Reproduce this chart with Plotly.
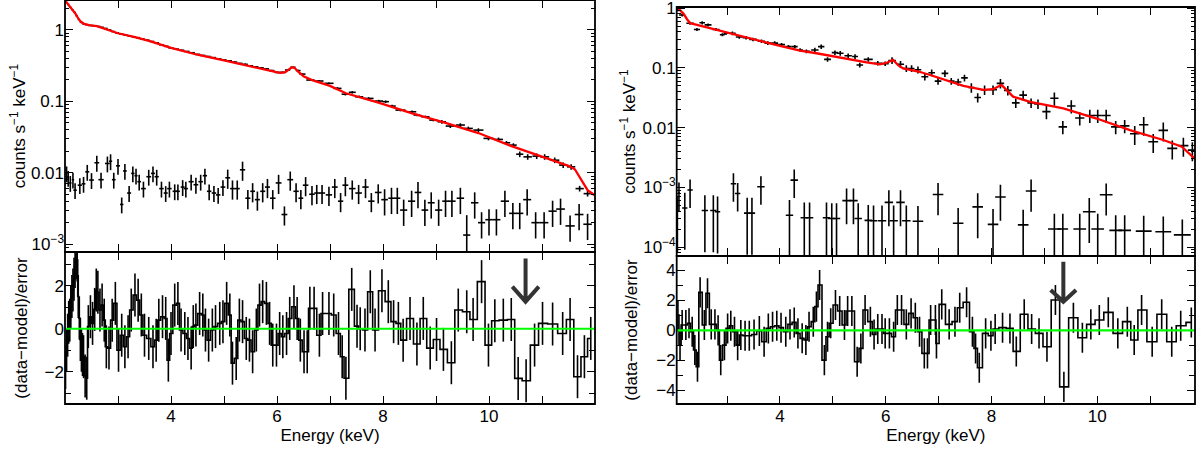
import numpy as np
import plotly.graph_objects as go

# ---------------- LEFT SPECTRUM ----------------
left_model_E = [2.00, 2.05, 2.10, 2.15, 2.20, 2.25, 2.30, 2.36, 2.45, 2.60, 2.80, 3.00, 3.30, 3.60, 4.00,
                4.50, 5.00, 5.50, 5.90, 6.05, 6.15, 6.22, 6.28, 6.33, 6.40, 6.50, 6.65, 7.00, 7.30, 7.93,
                8.55, 9.18, 9.80, 10.40, 11.05, 11.50, 11.62, 11.72, 11.86, 12.00]
left_model_y = [2.60, 2.35, 2.10, 1.90, 1.68, 1.45, 1.30, 1.22, 1.17, 1.13, 1.02, 0.90, 0.80, 0.70, 0.56,
                0.45, 0.375, 0.31, 0.265, 0.25, 0.255, 0.28, 0.30, 0.295, 0.26, 0.225, 0.20, 0.165, 0.13, 0.095,
                0.068, 0.05, 0.036, 0.024, 0.0165, 0.0125, 0.0112, 0.0085, 0.0057, 0.0048]

left_src_E = [2.02, 2.06, 2.10, 2.14, 2.18, 2.22, 2.26, 2.30, 2.35, 2.40, 2.46, 2.52, 2.58, 2.64, 2.70,
              2.77, 2.84, 2.91, 2.98, 3.06, 3.14, 3.22, 3.30, 3.38, 3.46, 3.55, 3.64, 3.73, 3.82, 3.91,
              4.00, 4.10, 4.20, 4.30, 4.40, 4.50, 4.60, 4.70, 4.80, 4.90, 5.00, 5.10, 5.20, 5.30, 5.40,
              5.50, 5.60, 5.70, 5.80, 5.90, 6.00, 6.10, 6.20, 6.30, 6.40, 6.48, 6.63, 6.79, 6.98, 7.14,
              7.29, 7.42, 7.55, 7.73, 7.92, 8.05, 8.17, 8.33, 8.55, 8.64, 8.80, 8.95, 9.11, 9.27, 9.46,
              9.61, 9.80, 9.99, 10.18, 10.33, 10.46, 10.58, 10.73, 10.90, 11.05, 11.24, 11.40, 11.55, 11.71, 11.86]
left_src_y = [2.48, 2.28, 2.08, 1.92, 1.77, 1.58, 1.40, 1.28, 1.22, 1.19, 1.16, 1.15, 1.13, 1.12, 1.09,
              1.05, 1.00, 0.95, 0.91, 0.88, 0.85, 0.82, 0.80, 0.78, 0.75, 0.72, 0.69, 0.66, 0.62, 0.59,
              0.56, 0.54, 0.52, 0.50, 0.48, 0.455, 0.44, 0.425, 0.41, 0.395, 0.38, 0.37, 0.355, 0.34, 0.33,
              0.315, 0.305, 0.295, 0.285, 0.27, 0.255, 0.255, 0.275, 0.30, 0.27, 0.241, 0.199, 0.193, 0.179, 0.152,
              0.126, 0.134, 0.116, 0.110, 0.101, 0.099, 0.086, 0.0755, 0.0715, 0.0643, 0.0608, 0.0547, 0.0518, 0.0451, 0.0466,
              0.0418, 0.0396, 0.0303, 0.0293, 0.0263, 0.0244, 0.0182, 0.0167, 0.0171, 0.0167, 0.0150, 0.0128, 0.0121, 0.0060, 0.0051]
left_src_relerr = [0.01] * 19 + [0.015] * 21 + [0.025] * 19 + [0.04] * 13 + [0.06] * 9 + [0.09] * 9

left_bkg_E = [2.03, 2.06, 2.10, 2.15, 2.19, 2.28, 2.35, 2.42, 2.50, 2.60, 2.68, 2.80, 2.86, 2.92, 3.00,
              3.07, 3.13, 3.21, 3.28, 3.34, 3.40, 3.48, 3.58, 3.66, 3.73, 3.82, 3.90, 3.97, 4.07, 4.13,
              4.22, 4.28, 4.38, 4.47, 4.56, 4.64, 4.72, 4.81, 4.89, 4.98, 5.07, 5.16, 5.25, 5.35, 5.45,
              5.54, 5.63, 5.73, 5.82, 5.92, 6.03, 6.14, 6.25, 6.36, 6.45, 6.54, 6.66, 6.75, 6.85, 6.98,
              7.09, 7.20, 7.29, 7.42, 7.54, 7.67, 7.78, 7.91, 8.03, 8.16, 8.27, 8.39, 8.54, 8.66, 8.79,
              8.91, 9.05, 9.18, 9.30, 9.46, 9.58, 9.73, 9.86, 10.00, 10.14, 10.30, 10.45, 10.58, 10.72, 10.88,
              11.04, 11.20, 11.35, 11.53, 11.70, 11.86]
left_bkg_y = [0.0098, 0.0085, 0.0072, 0.0080, 0.0057, 0.0067, 0.0070, 0.0103, 0.0079, 0.0138, 0.0080, 0.0135, 0.0145, 0.0080, 0.0125,
              0.0036, 0.0106, 0.0052, 0.0098, 0.0091, 0.0075, 0.0060, 0.0088, 0.0098, 0.0088, 0.0060, 0.0052, 0.0060, 0.0055, 0.0055,
              0.0063, 0.0060, 0.0075, 0.0068, 0.0075, 0.0091, 0.0055, 0.0052, 0.0049, 0.0063, 0.0085, 0.0060, 0.0060, 0.0110, 0.0044,
              0.0055, 0.0042, 0.0055, 0.0063, 0.0044, 0.0072, 0.0026, 0.0080, 0.0055, 0.0044, 0.0067, 0.0050, 0.0052, 0.0052, 0.0049,
              0.0063, 0.0040, 0.0067, 0.0060, 0.0052, 0.0063, 0.0040, 0.0053, 0.0042, 0.0044, 0.0044, 0.0030, 0.0040, 0.0053, 0.0030,
              0.0038, 0.0030, 0.0040, 0.0040, 0.0044, 0.00134, 0.0038, 0.0020, 0.0022, 0.0022, 0.0040, 0.0027, 0.0027, 0.0042, 0.0020,
              0.0020, 0.0029, 0.0031, 0.0018, 0.0026, 0.0019]
left_bkg_relerr = [0.25] * 40 + [0.3] * 28 + [0.4] * 12 + [0.9] + [0.4] * 15

left_res_E = [2.01, 2.03, 2.05, 2.07, 2.09, 2.11, 2.13, 2.15, 2.17, 2.19, 2.21, 2.23, 2.25, 2.27, 2.29, 2.31, 2.33, 2.35,
              2.38, 2.41, 2.44, 2.48, 2.52, 2.56, 2.59, 2.62, 2.66, 2.70, 2.74, 2.78, 2.83, 2.89, 2.95,
              3.01, 3.07, 3.13, 3.19, 3.25, 3.32, 3.38, 3.44, 3.50, 3.58, 3.66, 3.72, 3.77, 3.84, 3.90, 3.95,
              4.00, 4.07, 4.13, 4.19, 4.26, 4.32, 4.38, 4.42, 4.47, 4.54, 4.60, 4.65, 4.71, 4.78, 4.84, 4.92, 4.98,
              5.05, 5.11, 5.16, 5.23, 5.29, 5.35, 5.42, 5.48, 5.54, 5.61, 5.67, 5.73, 5.80, 5.86, 5.92, 5.99,
              6.05, 6.11, 6.18, 6.24, 6.32, 6.38, 6.44, 6.51, 6.57, 6.62, 6.70, 6.80, 6.86,
              6.98, 7.07, 7.16, 7.23, 7.30, 7.41, 7.51, 7.57, 7.66, 7.76, 7.85, 7.98,
              8.10, 8.20, 8.29, 8.38, 8.51, 8.64, 8.76, 8.89,
              9.01, 9.14, 9.29, 9.42, 9.58, 9.70, 9.86, 9.99,
              10.11, 10.27, 10.42, 10.55, 10.70, 10.86,
              11.01, 11.20, 11.39, 11.53, 11.67, 11.80, 11.92]
left_res = [-1.8, -1.0, -0.3, 0.3, 0.4, 1.0, 1.5, 1.8, 2.3, 2.9, 3.3, 3.2, 1.5, 0.5, -0.5, -1.0, -1.2, -1.3,
            -2.2, -2.3, 0.1, 0.56, 0.25, 0.9, 1.8, 1.7, 0.87, 1.1, 0.4, -0.84, -0.9, 0.4, 1.18,
            -1.0, -0.3, -0.84, -0.37, 0.87, 1.57, 1.33, 0.64, -0.3, -0.45, -0.84, -0.53, 0.4, 0.56, 0.48, -1.46,
            -0.22, 1.1, 1.18, -0.06, -0.22, -0.45, -0.9, 0.1, 0.17, 0.71, 0.64, -0.06, -0.53, -0.06, 0.1, 0.25, 0.33,
            1.18, 0.64, -1.6, -1.38, 0.4, 0.33, -0.45, -0.53, -1.07, -0.06, 1.1, 1.26, 1.18, 0.25, -0.76, -0.76,
            -0.22, -0.37, -0.22, 0.48, 1.02, 0.48, -0.53, -1.07, -1.07, 0.95, 0.95, -0.3, 0.71,
            0.71, 0.64, -0.22, -1.3, -2.3, 1.83, 0.12, 0.0, -0.06, 1.72, -0.06, 1.77,
            1.26, 0.33, 0.25, -0.53, 0.48, -0.71, 0.48, -0.9,
            -0.5, -0.96, -1.58, 0.87, 0.79, 0.43, 2.19, -0.76,
            0.37, 0.4, 0.43, -2.31, -2.42, -0.76,
            0.25, 0.22, -0.22, 0.43, -2.23, -1.3, -0.45]

# ---------------- RIGHT SPECTRUM ----------------
right_model_E = [2.05, 2.10, 2.17, 2.24, 2.30, 2.43, 2.68, 2.93, 3.12, 3.43, 3.75, 4.06, 4.38, 4.69, 5.01,
                 5.32, 5.64, 5.89, 6.02, 6.14, 6.24, 6.33, 6.62, 6.84, 7.47, 7.85, 8.03, 8.19, 8.30, 8.41,
                 8.73, 9.36, 9.99, 10.62, 11.25, 11.60, 11.85]
right_model_y = [1.04, 0.95, 0.82, 0.66, 0.56, 0.525, 0.46, 0.40, 0.36, 0.31, 0.265, 0.227, 0.195, 0.176, 0.155,
                 0.139, 0.124, 0.115, 0.122, 0.136, 0.11, 0.098, 0.087, 0.076, 0.05, 0.043, 0.044, 0.052, 0.042, 0.033,
                 0.027, 0.021, 0.0142, 0.0091, 0.0062, 0.0048, 0.003]

right_src_E = [2.07, 2.15, 2.30, 2.43, 2.53, 2.64, 2.79, 2.91, 2.98, 3.10, 3.23, 3.36, 3.49, 3.65, 3.77,
               3.90, 4.03, 4.16, 4.28, 4.38, 4.50, 4.66, 4.78, 4.90, 5.04, 5.14, 5.29, 5.42, 5.51, 5.67,
               5.85, 5.99, 6.12, 6.28, 6.39, 6.49, 6.61, 6.74, 6.87, 6.99, 7.12, 7.24, 7.37, 7.49, 7.62,
               7.74, 7.87, 8.03, 8.17, 8.31, 8.46, 8.60, 8.75, 8.88, 9.04, 9.19, 9.35, 9.51, 9.67, 9.86,
               10.01, 10.17, 10.35, 10.52, 10.71, 10.88, 11.06, 11.25, 11.42, 11.63, 11.80]
right_src_y = [0.95, 0.77, 0.56, 0.44, 0.57, 0.525, 0.44, 0.36, 0.38, 0.38, 0.33, 0.32, 0.30, 0.28, 0.26,
               0.26, 0.245, 0.227, 0.227, 0.20, 0.19, 0.20, 0.227, 0.139, 0.18, 0.176, 0.16, 0.155, 0.112, 0.139,
               0.12, 0.118, 0.133, 0.115, 0.098, 0.098, 0.093, 0.071, 0.083, 0.060, 0.081, 0.060, 0.058, 0.068, 0.047,
               0.032, 0.043, 0.043, 0.055, 0.042, 0.026, 0.035, 0.026, 0.025, 0.0185, 0.031, 0.0103, 0.023, 0.0145, 0.016,
               0.016, 0.016, 0.0103, 0.0107, 0.0079, 0.0112, 0.0058, 0.009, 0.0045, 0.005, 0.0042]
right_src_relerr = [0.06] * 9 + [0.07] * 12 + [0.09] * 11 + [0.13] * 12 + [0.18] * 10 + [0.25] * 10 + [0.35] * 7

right_bkg_E = [2.06, 2.09, 2.20, 2.30, 2.58, 2.74, 2.82, 3.12, 3.20, 3.38, 3.47, 3.64, 4.18, 4.27, 4.46, 4.56,
               4.88, 4.98, 5.07, 5.26, 5.39, 5.48, 5.67, 5.77, 5.93, 6.06, 6.15, 6.28, 6.39, 6.61, 6.99, 7.37,
               7.74, 8.03, 8.17, 8.60, 8.75, 9.19, 9.35, 9.67, 9.85, 10.01, 10.17, 10.35, 10.52, 10.88, 11.25, 11.61]
right_bkg_y = [4.0e-4, 8.0e-4, 4.5e-4, 9.0e-4, 4.1e-4, 4.1e-4, 3.9e-4, 1.15e-3, 7.9e-4, 3.7e-4, 3.7e-4, 1.02e-3,
               3.4e-4, 1.32e-3, 3.1e-4, 3.1e-4, 3.1e-4, 3.0e-4, 3.0e-4, 6.0e-4, 6.0e-4, 3.0e-4, 2.8e-4, 2.75e-4,
               2.75e-4, 5.6e-4, 2.75e-4, 5.6e-4, 2.75e-4, 2.7e-4, 7.6e-4, 2.5e-4, 4.7e-4, 2.4e-4, 6.9e-4, 2.35e-4,
               8.7e-4, 2.0e-4, 2.0e-4, 2.0e-4, 3.9e-4, 2.0e-4, 7.5e-4, 1.9e-4, 1.9e-4, 1.85e-4, 1.8e-4, 1.6e-4]
right_bkg_relerr = [0.8, 0.5, 0.8, 0.5, 0.8, 0.8, 0.8, 0.5, 0.5, 0.8, 0.8, 0.5, 0.8, 0.5, 0.8, 0.8,
                    0.8, 0.8, 0.8, 0.6, 0.6, 0.8, 0.8, 0.8, 0.8, 0.6, 0.8, 0.6, 0.8, 0.8, 0.55, 0.8,
                    0.7, 0.8, 0.6, 0.8, 0.55, 0.8, 0.8, 0.8, 0.7, 0.8, 0.55, 0.8, 0.8, 0.8, 0.8, 0.8]
right_bkg_halfwidth = [0.02, 0.02, 0.05, 0.05, 0.06, 0.06, 0.05, 0.05, 0.05, 0.06, 0.06, 0.07, 0.07, 0.07, 0.07, 0.07,
                       0.07, 0.07, 0.07, 0.08, 0.08, 0.07, 0.07, 0.07, 0.08, 0.08, 0.08, 0.08, 0.08, 0.1, 0.1, 0.1,
                       0.1, 0.1, 0.1, 0.1, 0.1, 0.12, 0.1, 0.12, 0.12, 0.12, 0.12, 0.12, 0.12, 0.15, 0.15, 0.16]

right_res_E = [2.07, 2.11, 2.15, 2.22, 2.28, 2.34, 2.39, 2.44, 2.49, 2.57, 2.63, 2.70, 2.77, 2.83, 2.88, 2.95,
               3.01, 3.07, 3.14, 3.20, 3.26, 3.34, 3.42, 3.51, 3.61, 3.70, 3.78, 3.86, 3.94, 4.02, 4.11, 4.19,
               4.27, 4.34, 4.42, 4.49, 4.55, 4.63, 4.69, 4.75, 4.84, 4.90, 4.96, 5.05, 5.13, 5.22, 5.28, 5.36,
               5.46, 5.53, 5.61, 5.71, 5.78, 5.85, 5.93, 5.99, 6.07, 6.15, 6.22, 6.30, 6.39, 6.48, 6.56, 6.64,
               6.73, 6.79, 6.85, 6.94, 6.96, 7.06, 7.20, 7.31, 7.40, 7.53, 7.64, 7.70, 7.77, 7.89, 7.99, 8.07,
               8.21, 8.35, 8.47, 8.62, 8.76, 8.90, 9.05, 9.21, 9.37, 9.55, 9.72, 9.88, 10.04, 10.21, 10.39, 10.57,
               10.70, 10.84, 11.04, 11.22, 11.41, 11.58, 11.78]
right_res = [1.02, -0.98, 0.36, 0.36, 0.47, -0.09, -1.31, -2.42, 2.53, 0.36, 2.47, 0.4, 0.4, 0.0, -1.98, -0.98,
             0.13, 0.31, -0.09, -0.98, -0.31, -0.36, -0.36, -0.27, -0.04, -0.76, 0.13, 0.24, 0.31, 0.18, -0.09, 0.4,
             0.53, -0.2, -0.53, -0.64, 0.24, 0.58, 1.58, 3.02, -1.98, -0.42, 0.47, 1.69, 1.29, 0.36, 1.29, 1.29,
             -2.09, -1.2, 1.36, 0.58, -0.27, 0.09, 0.09, -0.2, -0.2, -0.42, 1.36, 1.36, 0.4, 1.13, 0.84, -0.09,
             -1.53, -1.53, 0.69, 0.69, -0.87, 1.73, 0.4, 0.58, 1.51, 1.87, -0.09, -1.2, -2.49, -0.2, -0.36, 0.09,
             0.18, 0.13, -1.4, 1.07, 0.09, -0.2, -1.09, 2.02, -3.76, 0.84, -0.49, 0.4, 0.69, 1.2, -0.2, 0.58,
             -0.64, 1.36, -0.76, 1.07, -0.76, 0.31, 0.53]

# arrows marking the absorption features (energy, shaft top, tip) in residual units
arrow_E = [10.69, 9.36]
arrow_top = [3.27, 4.57]
arrow_tip = [1.26, 1.91]

# ---------------- helpers ----------------
FONT = "Liberation Sans, Arial, Helvetica, sans-serif"


def halfwidths(e):
    e = np.asarray(e, float)
    d = np.diff(e)
    left = np.concatenate([[d[0]], d])
    right = np.concatenate([d, [d[-1]]])
    return 0.25 * (left + right)


def cross_trace(E, y, rel, hw, xa, ya, thick=1.6):
    y = np.asarray(y, float)
    return go.Scatter(
        x=E, y=y, xaxis=xa, yaxis=ya, mode="markers",
        marker=dict(size=1, color="black"),
        error_x=dict(type="data", array=np.asarray(hw, float), color="black", thickness=thick, width=0),
        error_y=dict(type="data", array=y * np.asarray(rel, float), color="black", thickness=thick, width=0),
        showlegend=False, hoverinfo="skip")


def model_trace(E, y, xa, ya):
    return go.Scatter(x=E, y=y, xaxis=xa, yaxis=ya, mode="lines",
                      line=dict(color="#ff0000", width=2.3), showlegend=False, hoverinfo="skip")


def resid_traces(E, r, xa, ya):
    step = go.Scatter(x=E, y=r, xaxis=xa, yaxis=ya, mode="lines",
                      line=dict(color="black", width=1.6, shape="hvh"), showlegend=False, hoverinfo="skip")
    bars = go.Scatter(x=E, y=r, xaxis=xa, yaxis=ya, mode="markers", marker=dict(size=1, color="black"),
                      error_y=dict(type="constant", value=1, color="black", thickness=1.6, width=0),
                      showlegend=False, hoverinfo="skip")
    return [step, bars]


fig = go.Figure()
# left panel
fig.add_trace(cross_trace(left_bkg_E, left_bkg_y, left_bkg_relerr, halfwidths(left_bkg_E), "x", "y"))
fig.add_trace(cross_trace(left_src_E, left_src_y, left_src_relerr, halfwidths(left_src_E), "x", "y"))
fig.add_trace(model_trace(left_model_E, left_model_y, "x", "y"))
for t in resid_traces(left_res_E, left_res, "x3", "y3"):
    fig.add_trace(t)
# right panel
fig.add_trace(cross_trace(right_bkg_E, right_bkg_y, right_bkg_relerr, right_bkg_halfwidth, "x2", "y2"))
fig.add_trace(cross_trace(right_src_E, right_src_y, right_src_relerr, halfwidths(right_src_E), "x2", "y2"))
fig.add_trace(model_trace(right_model_E, right_model_y, "x2", "y2"))
for t in resid_traces(right_res_E, right_res, "x4", "y4"):
    fig.add_trace(t)

tickfont = dict(size=17, family=FONT, color="black")
titlefont = dict(size=17, family=FONT, color="black")


def base_axis(**kw):
    d = dict(showline=False, mirror="allticks",
             ticks="inside", tickcolor="black", tickwidth=1.4, ticklen=8, automargin=False,
             showgrid=False, zeroline=False, tickfont=tickfont, ticklabeloverflow="allow")
    d.update(kw)
    return d


def x_axis(domain, rng, anchor, labels):
    d = base_axis(domain=domain, range=rng, anchor=anchor, tickmode="array", tickvals=[4, 6, 8, 10],
                  showticklabels=labels,
                  minor=dict(tickmode="array", tickvals=[3, 5, 7, 9, 11], ticks="inside", ticklen=8,
                             tickcolor="black", tickwidth=1.4, showgrid=False))
    if labels:
        d["title"] = dict(text="Energy (keV)", font=titlefont, standoff=2)
    return d


def log_minor(lo, hi):
    vals = []
    for d in range(lo, hi + 1):
        for k in range(2, 10):
            vals.append(k * 10.0 ** d)
    return vals


left_x = [65 / 1200, 595 / 1200]
right_x = [676.7 / 1200, 1195 / 1200]

fig.update_layout(
    template="none",
    width=1200, height=450, margin=dict(l=0, r=0, t=0, b=0, pad=0), autosize=False,
    paper_bgcolor="white", plot_bgcolor="white", font=dict(family=FONT, color="black"),
    showlegend=False,
    xaxis=x_axis(left_x, [2, 12], "y", False),
    xaxis3=x_axis(left_x, [2, 12], "y3", True),
    xaxis2=x_axis(right_x, [2.047, 11.85], "y2", False),
    xaxis4=x_axis(right_x, [2.047, 11.85], "y4", True),
    yaxis=base_axis(domain=[1 - 252 / 450, 1.0], type="log", range=[-3.11, 0.42], anchor="x",
                    tickmode="array", tickvals=[1e-3, 1e-2, 1e-1, 1],
                    ticktext=["10<sup>−3</sup>", "0.01", "0.1", "1"],
                    minor=dict(tickmode="array", tickvals=log_minor(-4, 0), ticks="inside", ticklen=4,
                               tickcolor="black", tickwidth=1.2, showgrid=False),
                    title=dict(text="counts s<sup>−1</sup> keV<sup>−1</sup>", font=titlefont, standoff=0)),
    yaxis3=base_axis(domain=[1 - 404 / 450, 1 - 252 / 450], range=[-3.5, 3.57], anchor="x3",
                     tickmode="array", tickvals=[-2, 0, 2], ticktext=["−2", "0", "2"],
                     minor=dict(tickmode="array", tickvals=[-3, -1, 1, 3], ticks="inside", ticklen=6,
                                tickcolor="black", tickwidth=1.4, showgrid=False),
                     title=dict(text="(data−model)/error", font=titlefont, standoff=12)),
    yaxis2=base_axis(domain=[1 - 256 / 450, 1 - 7 / 450], type="log", range=[-4.15, 0.02], anchor="x2",
                     tickmode="array", tickvals=[1e-4, 1e-3, 1e-2, 1e-1, 1],
                     ticktext=["10<sup>−4</sup>", "10<sup>−3</sup>", "0.01", "0.1", "1"],
                     minor=dict(tickmode="array", tickvals=log_minor(-5, 0), ticks="inside", ticklen=4,
                                tickcolor="black", tickwidth=1.2, showgrid=False),
                     title=dict(text="counts s<sup>−1</sup> keV<sup>−1</sup>", font=titlefont, standoff=2)),
    yaxis4=base_axis(domain=[1 - 404 / 450, 1 - 256 / 450], range=[-4.9, 4.95], anchor="x4",
                     tickmode="array", tickvals=[-4, -2, 0, 2, 4], ticktext=["−4", "−2", "0", "2", "4"],
                     minor=dict(tickmode="array", tickvals=[-3, -1, 1, 3], ticks="inside", ticklen=6,
                                tickcolor="black", tickwidth=1.4, showgrid=False),
                     title=dict(text="(data−model)/error", font=titlefont, standoff=14)),
)

shapes = []
# zero lines in residual panels
for xa, ya in (("x3", "y3"), ("x4", "y4")):
    shapes.append(dict(type="line", xref=f"{xa} domain", yref=ya, x0=0, x1=1, y0=0, y1=0,
                       line=dict(color="#00ff00", width=2.2), layer="above"))
# panel frames (single shared line between the stacked panels)
for xa, ya in (("x", "y"), ("x3", "y3"), ("x2", "y2"), ("x4", "y4")):
    shapes.append(dict(type="rect", xref=f"{xa} domain", yref=f"{ya} domain", x0=0, x1=1, y0=0, y1=1,
                       line=dict(color="black", width=1.8), fillcolor="rgba(0,0,0,0)", layer="above"))
# arrows
head = [(0.25, 0.70, "x3", "y3"), (0.24, 0.78, "x4", "y4")]
for (e, top, tip), (hw, hh, xa, ya) in zip(zip(arrow_E, arrow_top, arrow_tip), head):
    path = (f"M {e},{top} L {e},{tip} M {e - hw},{tip + hh} L {e},{tip} L {e + hw},{tip + hh}")
    shapes.append(dict(type="path", xref=xa, yref=ya, path=path,
                       line=dict(color="#333333", width=4), layer="above"))
fig.update_layout(shapes=shapes)

fig.write_html("out.html")
